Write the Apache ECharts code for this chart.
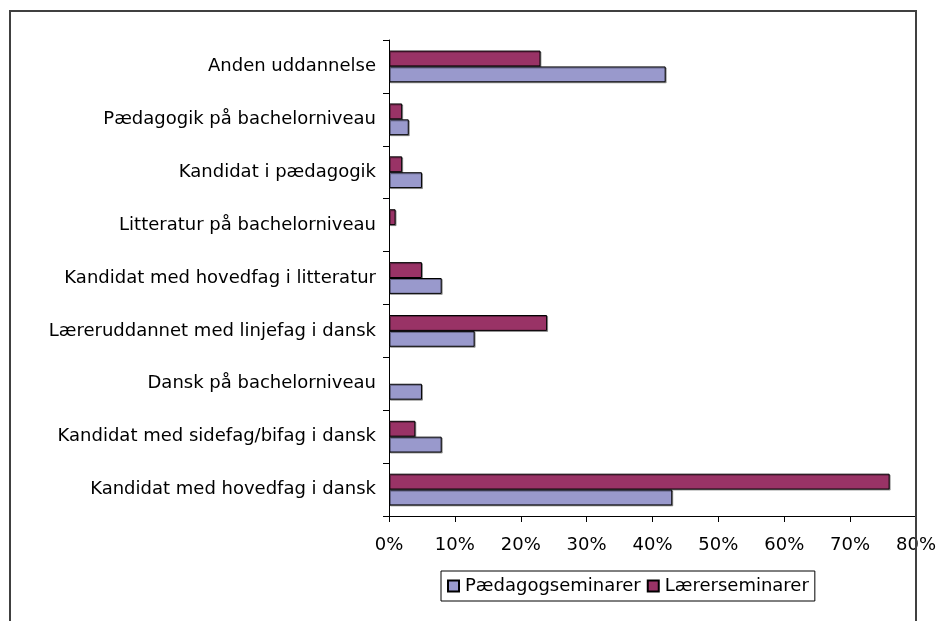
<!DOCTYPE html>
<html>
<head>
<meta charset="utf-8">
<script src="https://cdn.jsdelivr.net/npm/echarts@6/dist/echarts.min.js"></script>
<style>html,body{margin:0;padding:0;background:#fff}#c{width:940px;height:621px}</style>
</head>
<body>
<div id="c"></div>
<script>
// Categories, bottom to top (as drawn by the category axis)
var categories = [
  'Kandidat med hovedfag i dansk',
  'Kandidat med sidefag/bifag i dansk',
  'Dansk på bachelorniveau',
  'Læreruddannet med linjefag i dansk',
  'Kandidat med hovedfag i litteratur',
  'Litteratur på bachelorniveau',
  'Kandidat i pædagogik',
  'Pædagogik på bachelorniveau',
  'Anden uddannelse'
];
var seriesNames = ['Pædagogseminarer', 'Lærerseminarer'];
var paedagog = [43, 8, 5, 13, 8, 0, 5, 3, 42];
var laerer = [76, 4, 0, 24, 5, 1, 2, 2, 23];
var xTicks = { min: 0, max: 80, interval: 10 };

var font = 'DejaVu Sans, Verdana, sans-serif';
function prep(arr) {
  return arr.map(function (v) {
    return v === 0 ? { value: 0, itemStyle: { borderWidth: 0, opacity: 0 } } : v;
  });
}
var chart = echarts.init(document.getElementById('c'), null, { renderer: 'canvas' });
chart.setOption({
  animation: false,
  backgroundColor: '#ffffff',
  graphic: [{
    type: 'rect',
    shape: { x: 10, y: 11, width: 906, height: 700 },
    style: { fill: 'none', stroke: '#404040', lineWidth: 2 },
    z: 100
  }],
  grid: { left: 389, right: 24, top: 40, bottom: 105, containLabel: false },
  legend: {
    data: seriesNames,
    left: 441, top: 571,
    itemWidth: 11, itemHeight: 11, itemGap: 6,
    padding: [6, 6, 6, 6],
    borderColor: '#000', borderWidth: 1,
    icon: 'rect',
    textStyle: { fontFamily: font, fontSize: 18, color: '#000', padding: [0, 0, 0, 1] }
  },
  xAxis: {
    type: 'value',
    min: xTicks.min, max: xTicks.max, interval: xTicks.interval,
    axisLine: { show: true, lineStyle: { color: '#000', width: 1 } },
    axisTick: { show: true, length: 6, inside: false, lineStyle: { color: '#000' } },
    splitLine: { show: false },
    axisLabel: { formatter: '{value}%', fontFamily: font, fontSize: 18, color: '#000', margin: 20 }
  },
  yAxis: {
    type: 'category',
    data: categories,
    axisLine: { show: true, lineStyle: { color: '#000', width: 1 } },
    axisTick: { show: true, length: 6, lineStyle: { color: '#000' } },
    axisLabel: { fontFamily: font, fontSize: 18, color: '#000', margin: 13 }
  },
  series: [
    {
      name: seriesNames[1], type: 'bar', data: prep(laerer),
      barGap: '0%', barCategoryGap: '40%',
      itemStyle: { color: '#993366', borderColor: '#000', borderWidth: 1,
        shadowColor: 'rgba(0,0,0,0.35)', shadowOffsetX: 1, shadowOffsetY: 1, shadowBlur: 0 }
    },
    {
      name: seriesNames[0], type: 'bar', data: prep(paedagog),
      barGap: '0%', barCategoryGap: '40%',
      itemStyle: { color: '#9999CC', borderColor: '#000', borderWidth: 1,
        shadowColor: 'rgba(0,0,0,0.35)', shadowOffsetX: 1, shadowOffsetY: 1, shadowBlur: 0 }
    }
  ]
});
</script>
</body>
</html>
